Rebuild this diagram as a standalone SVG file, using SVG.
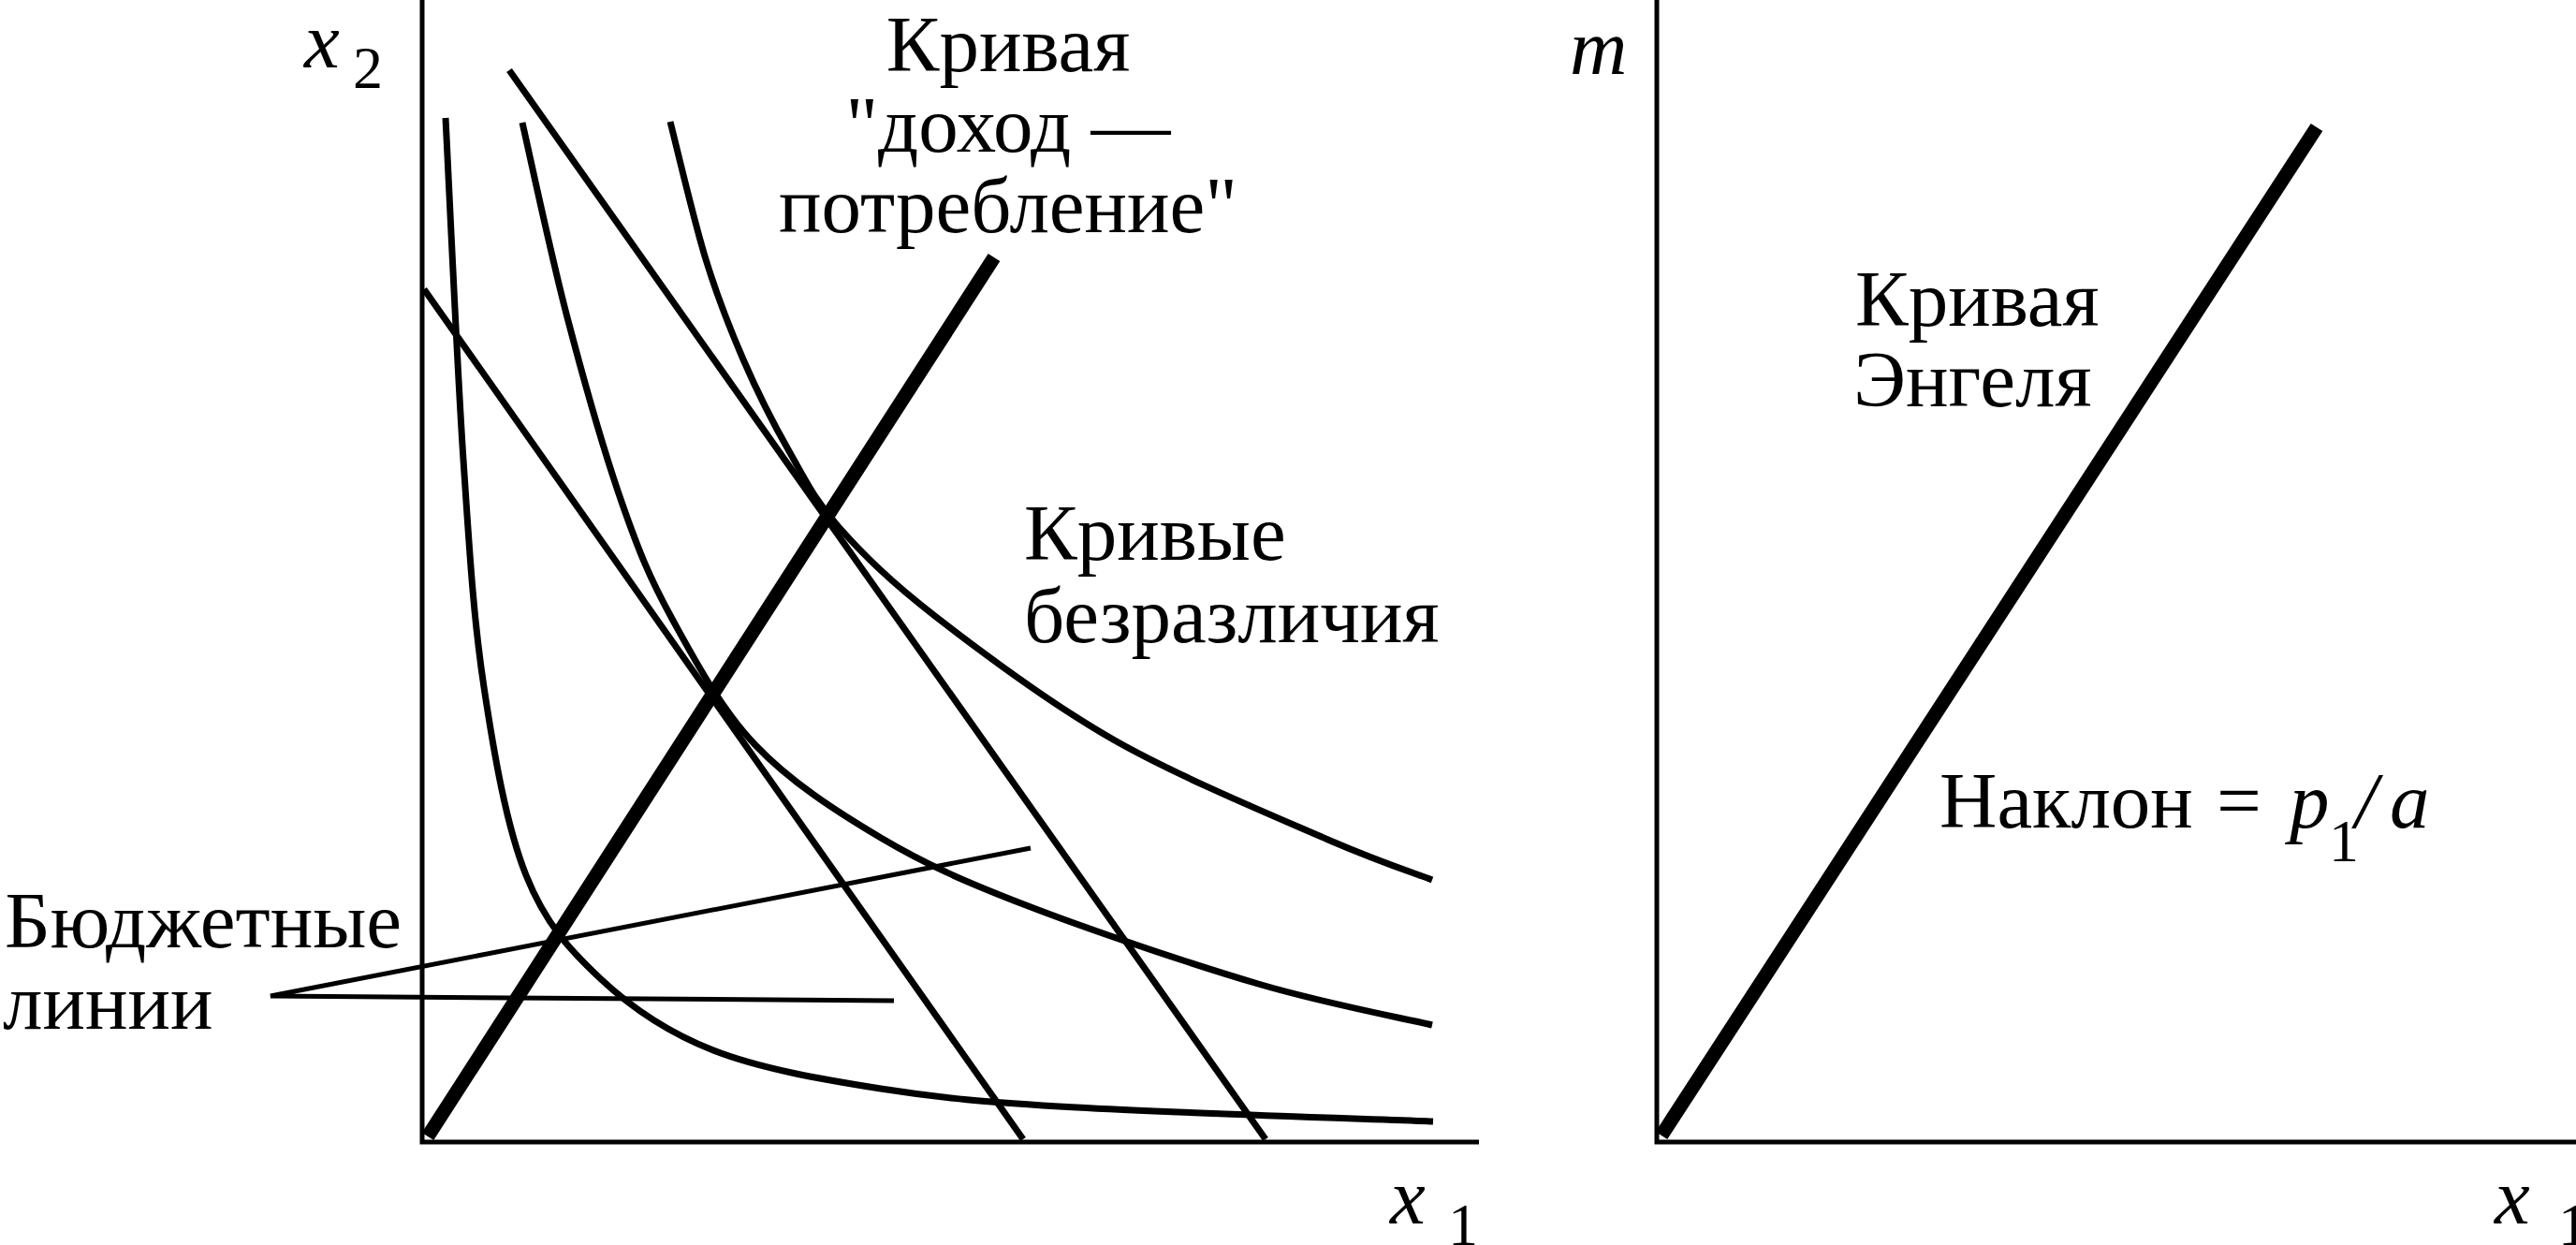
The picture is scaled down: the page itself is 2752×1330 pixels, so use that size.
<svg xmlns="http://www.w3.org/2000/svg" width="2752" height="1330" viewBox="0 0 2752 1330">
<rect width="2752" height="1330" fill="#fff"/>
<g id="axes" stroke="#000" stroke-width="5" fill="none">
<path id="left-axis" d="M451,0 V1220 H1580"/>
<path id="right-axis" d="M1770,0 V1220 H2752"/>
</g>
<g id="connectors" stroke="#000" fill="none">
<g stroke-width="7">
<path id="ic1" d="M476,126 C479.2,186.8 488.2,389.7 495,491 C501.8,592.3 505.8,660 517,734 C528.2,808 541.2,883 562,935 C582.8,987 608.7,1014.8 642,1046 C675.3,1077.2 712.2,1102.5 762,1122 C811.8,1141.5 876.3,1152.8 941,1163 C1005.7,1173.2 1051.7,1177.2 1150,1183 C1248.3,1188.8 1467.5,1195.5 1531,1198"/>
<path id="ic2" d="M558,131 C566,165.7 588.3,271.5 606,339 C623.7,406.5 645.3,482.3 664,536 C682.7,589.7 694.2,617.7 718,661 C741.8,704.3 769.8,757 807,796 C844.2,835 892.8,866.5 941,895 C989.2,923.5 1028.8,941 1096,967 C1163.2,993 1271.7,1029.7 1344,1051 C1416.3,1072.3 1499,1087.7 1530,1095"/>
<path id="ic3" d="M716,130 C722.3,154.5 741,234.7 754,277 C767,319.3 779.2,349.8 794,384 C808.8,418.2 826,452.2 843,482 C860,511.8 869.8,533.5 896,563 C922.2,592.5 950.8,621 1000,659 C1049.2,697 1120.8,751.2 1191,791 C1261.2,830.8 1364.5,873.2 1421,898 C1477.5,922.2 1511.8,933 1530,940"/>
<path id="budget-a" d="M453,309 L1093,1217"/>
<path id="budget-b" d="M544,75 L1352,1217"/>
</g>
<g stroke-width="15">
<path id="income-consumption" d="M457,1214 L1062,275"/>
<path id="engel" d="M1775,1213 L2475,136"/>
</g>
<path id="budget-pointer" stroke-width="5" d="M1101,906 L289,1064 L955,1069"/>
</g>
<g id="axis-labels">
<text font-family="Liberation Serif" font-size="85" font-style="italic" x="325" y="72">x</text>
<text font-family="Liberation Serif" font-size="64" x="377" y="94">2</text>
<text font-family="Liberation Serif" font-size="85" font-style="italic" x="1485" y="1307">x</text>
<text font-family="Liberation Serif" font-size="64" x="1547" y="1330">1</text>
<text font-family="Liberation Serif" font-size="85" font-style="italic" x="1677" y="79">m</text>
<text font-family="Liberation Serif" font-size="85" font-style="italic" x="2665" y="1307">x</text>
<text font-family="Liberation Serif" font-size="64" x="2733" y="1330">1</text>
</g>
<g id="label-icc">
<text font-family="Liberation Serif" font-size="85" x="1077" y="76" text-anchor="middle">Кривая</text>
<text font-family="Liberation Serif" font-size="85" x="1077" y="162" text-anchor="middle">"доход —</text>
<text font-family="Liberation Serif" font-size="85" x="1077" y="248" text-anchor="middle">потребление"</text>
</g>
<g id="label-ic">
<text font-family="Liberation Serif" font-size="85" x="1094" y="598">Кривые</text>
<text font-family="Liberation Serif" font-size="85" x="1094" y="686">безразличия</text>
</g>
<g id="label-budget">
<text font-family="Liberation Serif" font-size="85" x="5" y="1012">Бюджетные</text>
<text font-family="Liberation Serif" font-size="85" x="3" y="1099">линии</text>
</g>
<g id="label-engel">
<text font-family="Liberation Serif" font-size="85" x="1982" y="348">Кривая</text>
<text font-family="Liberation Serif" font-size="85" x="1980" y="434">Энгеля</text>
</g>
<g id="label-slope">
<text font-family="Liberation Serif" font-size="85" x="2072" y="884">Наклон</text>
<text font-family="Liberation Serif" font-size="85" x="2368" y="884">=</text>
<text font-family="Liberation Serif" font-size="85" font-style="italic" x="2446" y="884">p</text>
<text font-family="Liberation Serif" font-size="64" x="2488" y="920">1</text>
<text font-family="Liberation Serif" font-size="85" font-style="italic" x="2516" y="884">/</text>
<text font-family="Liberation Serif" font-size="85" font-style="italic" x="2553" y="884">a</text>
</g>
</svg>
